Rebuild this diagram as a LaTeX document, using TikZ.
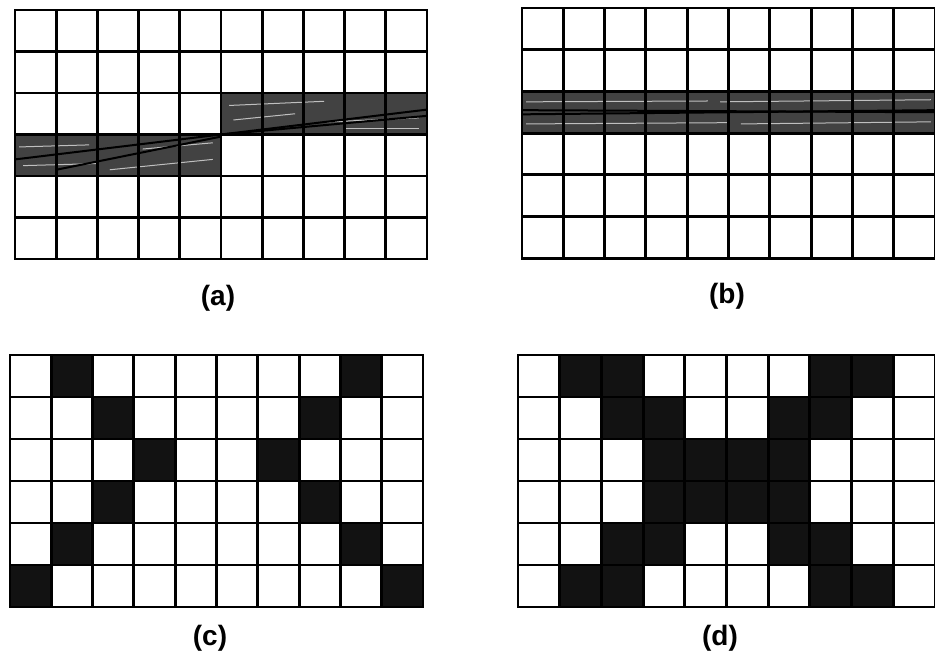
\documentclass[tikz,border=0pt]{standalone}
\usepackage{fontspec}
\setsansfont{Liberation Sans}
\begin{document}
\begin{tikzpicture}[x=1pt,y=-1pt,
  gridline/.style={line width=2.9pt, black, line cap=rect},
  shade/.style={fill=black!93},
  bandshade/.style={fill=black!74},
  streak/.style={line width=1pt, white!75!black},
  beam/.style={line width=2pt, black},
  lbl/.style={font=\sffamily\bfseries\fontsize{28}{32}\selectfont, inner sep=0pt}]
\useasboundingbox (0,0) rectangle (935,667);
\fill[white] (0,0) rectangle (935,667);

% ---------- (a) ----------
\begin{scope}[shift={(15,10)}, x=41.2pt, y=-41.5pt]
  \fill[bandshade] (0,3) rectangle (5,4);
  \fill[bandshade] (5,2) rectangle (10,3);
  \draw[streak] (0.1,3.3) -- (1.8,3.25);
  \draw[streak] (0.2,3.75) -- (2.0,3.7);
  \draw[streak] (2.3,3.85) -- (4.8,3.6);
  \draw[streak] (3.1,3.35) -- (4.8,3.2);
  \draw[beam] (0,3.6) -- (5,3.0);
  \draw[beam] (1.0,3.85) -- (5,3.05);
  \draw[streak] (5.2,2.3) -- (7.5,2.2);
  \draw[streak] (5.3,2.65) -- (6.8,2.5);
  \draw[streak] (7.5,2.7) -- (9.8,2.6);
  \draw[streak] (8.0,2.85) -- (9.8,2.85);
  \draw[beam] (5,3) -- (10,2.4);
  \draw[beam] (5,3) -- (10,2.55);
  \foreach \i in {0,...,10} \draw[gridline] (\i,0) -- (\i,6);
  \foreach \j in {0,...,6} \draw[gridline] (0,\j) -- (10,\j);
\end{scope}
\node[lbl] (la) at (218,298) {(a)};

% ---------- (b) ----------
\begin{scope}[shift={(522,8)}, x=41.3pt, y=-41.7pt]
  \fill[bandshade] (0,2) rectangle (10,3);
  \draw[streak] (0.1,2.25) -- (4.5,2.23);
  \draw[streak] (4.8,2.25) -- (9.9,2.2);
  \draw[streak] (0.1,2.78) -- (5.0,2.75);
  \draw[streak] (5.3,2.78) -- (9.9,2.73);
  \draw[beam] (0,2.45) -- (10,2.5);
  \draw[beam] (0,2.55) -- (10,2.45);
  \foreach \i in {0,...,10} \draw[gridline] (\i,0) -- (\i,6);
  \foreach \j in {0,...,6} \draw[gridline] (0,\j) -- (10,\j);
\end{scope}
\node[lbl] (lb) at (727,296) {(b)};

% ---------- (c) ----------
\begin{scope}[shift={(10,355)}, x=41.3pt, y=-42pt]
  \foreach \c/\r in {1/0,8/0,2/1,7/1,3/2,6/2,2/3,7/3,1/4,8/4,0/5,9/5}
    \fill[shade] (\c,\r) rectangle ++(1,1);
  \foreach \i in {0,...,10} \draw[gridline] (\i,0) -- (\i,6);
  \foreach \j in {0,...,6} \draw[gridline] (0,\j) -- (10,\j);
\end{scope}
\node[lbl] (lc) at (210,638) {(c)};

% ---------- (d) ----------
\begin{scope}[shift={(518,355)}, x=41.7pt, y=-42pt]
  \foreach \c/\r in {1/0,2/0,7/0,8/0,
                     2/1,3/1,6/1,7/1,
                     3/2,4/2,5/2,6/2,
                     3/3,4/3,5/3,6/3,
                     2/4,3/4,6/4,7/4,
                     1/5,2/5,7/5,8/5}
    \fill[shade] (\c,\r) rectangle ++(1,1);
  \foreach \i in {0,...,10} \draw[gridline] (\i,0) -- (\i,6);
  \foreach \j in {0,...,6} \draw[gridline] (0,\j) -- (10,\j);
\end{scope}
\node[lbl] (ld) at (720,638) {(d)};
\end{tikzpicture}
\end{document}
